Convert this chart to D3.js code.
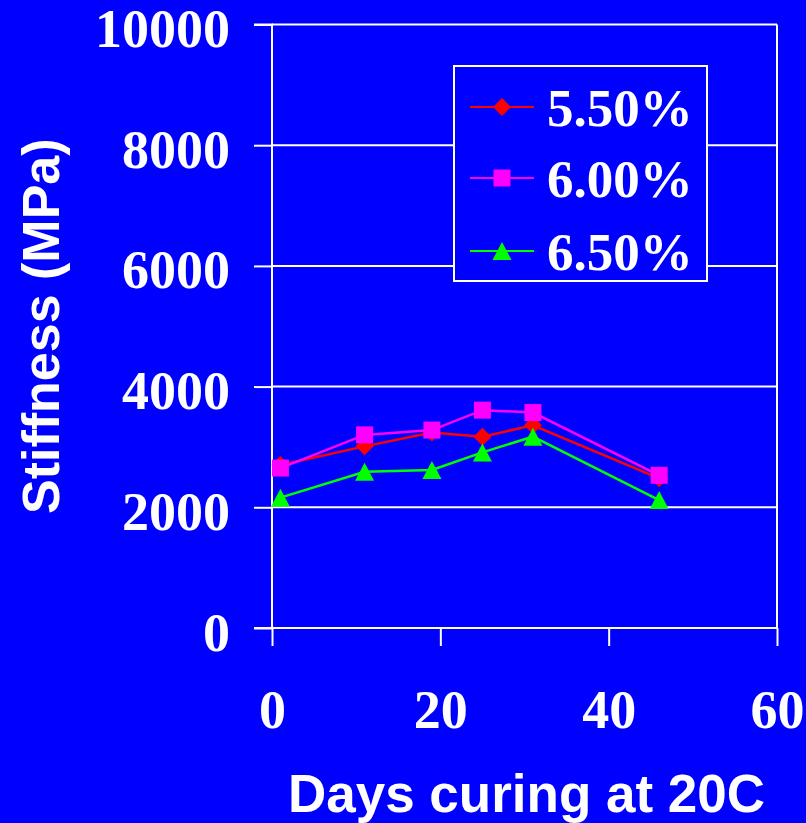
<!DOCTYPE html>
<html>
<head>
<meta charset="utf-8">
<script src="https://cdn.jsdelivr.net/npm/d3@7"></script>
<style>
  html, body { margin: 0; padding: 0; background: #0000ff; }
  svg { display: block; }
</style>
</head>
<body>
<div id="app"></div>
<script>
// values
const days = [1, 11, 19, 25, 31, 46];
const stiff550 = [2700, 3010, 3240, 3170, 3360, 2480];
const stiff600 = [2650, 3200, 3280, 3610, 3570, 2530];
const stiff650 = [2160, 2590, 2620, 2910, 3170, 2120];
const seriesNames = ['5.50%', '6.00%', '6.50%'];
const xTicks = [0, 20, 40, 60];
const yTicks = [0, 2000, 4000, 6000, 8000, 10000];

const width = 806;
const height = 823;
const plot = { left: 272, right: 777, top: 24.5, bottom: 628 };

const series = [
  { name: seriesNames[0], values: stiff550, color: '#ff0000', shape: 'diamond' },
  { name: seriesNames[1], values: stiff600, color: '#ff00ff', shape: 'square' },
  { name: seriesNames[2], values: stiff650, color: '#00ff00', shape: 'triangle' }
];

const svg = d3.select('#app').append('svg')
  .attr('width', width)
  .attr('height', height);

svg.append('rect')
  .attr('width', width).attr('height', height)
  .attr('fill', '#0000ff');

const x = d3.scaleLinear().domain([0, 60]).range([plot.left, plot.right]);
const y = d3.scaleLinear().domain([0, 10000]).range([plot.bottom, plot.top]);

const serif = '"Liberation Serif", "Times New Roman", serif';
const sans = '"Liberation Sans", Arial, sans-serif';

// gridlines
svg.append('g')
  .selectAll('line')
  .data(yTicks.filter(d => d > 0))
  .join('line')
  .attr('x1', plot.left).attr('x2', plot.right)
  .attr('y1', d => y(d)).attr('y2', d => y(d))
  .attr('stroke', '#fff').attr('stroke-width', 2);

// right border
svg.append('line')
  .attr('x1', plot.right).attr('x2', plot.right)
  .attr('y1', plot.top).attr('y2', plot.bottom)
  .attr('stroke', '#fff').attr('stroke-width', 2);

// axes
const yAxis = svg.append('g')
  .attr('transform', `translate(${plot.left},0)`)
  .call(d3.axisLeft(y).tickValues(yTicks).tickSize(18).tickPadding(24).tickFormat(d3.format('d')));

const xAxis = svg.append('g')
  .attr('transform', `translate(0,${plot.bottom})`)
  .call(d3.axisBottom(x).tickValues(xTicks).tickSize(18).tickPadding(0).tickFormat(d3.format('d')));

[yAxis, xAxis].forEach(ax => {
  ax.select('.domain').attr('stroke', '#fff').attr('stroke-width', 2);
  ax.selectAll('.tick line').attr('stroke', '#fff').attr('stroke-width', 2);
  ax.selectAll('.tick text')
    .attr('fill', '#fff')
    .attr('font-family', serif)
    .attr('font-weight', 'bold')
    .attr('font-size', 54);
});
yAxis.select('.domain').attr('d', `M-18,${plot.bottom}H0V${plot.top}H-18`);
yAxis.selectAll('.tick text').attr('dy', 22);
xAxis.select('.domain').attr('d', `M${plot.left},0H${plot.right}`);
xAxis.selectAll('.tick text').attr('y', 100).attr('dy', 0);

// markers
const markerPath = (shape) => {
  if (shape === 'diamond') return 'M0,-9L9,0L0,9L-9,0Z';
  if (shape === 'square') return 'M-8.5,-8.5H8.5V8.5H-8.5Z';
  return 'M0,-9L9.5,9H-9.5Z';
};

const line = d3.line().x((d, i) => x(days[i])).y(d => y(d));

series.forEach(s => {
  const g = svg.append('g');
  g.append('path')
    .attr('d', line(s.values))
    .attr('fill', 'none')
    .attr('stroke', s.color)
    .attr('stroke-width', 2.5);
  g.selectAll('path.mk')
    .data(s.values)
    .join('path')
    .attr('class', 'mk')
    .attr('transform', (d, i) => `translate(${x(days[i])},${y(d)})`)
    .attr('d', markerPath(s.shape))
    .attr('fill', s.color);
});

// legend
const legend = svg.append('g');
legend.append('rect')
  .attr('x', 454).attr('y', 66)
  .attr('width', 253).attr('height', 215)
  .attr('fill', '#0000ff')
  .attr('stroke', '#fff').attr('stroke-width', 2);

const legendY = [107, 178, 251];
series.forEach((s, i) => {
  const row = legend.append('g').attr('transform', `translate(0,${legendY[i]})`);
  row.append('line')
    .attr('x1', 470).attr('x2', 534)
    .attr('stroke', s.color).attr('stroke-width', 2);
  row.append('path')
    .attr('transform', 'translate(502,0)')
    .attr('d', markerPath(s.shape))
    .attr('fill', s.color);
  row.append('text')
    .attr('x', 547).attr('y', 19)
    .attr('fill', '#fff')
    .attr('font-family', serif)
    .attr('font-weight', 'bold')
    .attr('font-size', 53)
    .text(s.name);
});

// axis titles
svg.append('text')
  .attr('x', (plot.left + plot.right) / 2 + 2)
  .attr('y', 812)
  .attr('text-anchor', 'middle')
  .attr('fill', '#fff')
  .attr('font-family', sans)
  .attr('font-weight', 'bold')
  .attr('font-size', 53)
  .text('Days curing at 20C');

svg.append('text')
  .attr('transform', `translate(59,${(plot.top + plot.bottom) / 2}) rotate(-90)`)
  .attr('text-anchor', 'middle')
  .attr('fill', '#fff')
  .attr('font-family', sans)
  .attr('font-weight', 'bold')
  .attr('font-size', 52)
  .text('Stiffness (MPa)');
</script>
</body>
</html>
